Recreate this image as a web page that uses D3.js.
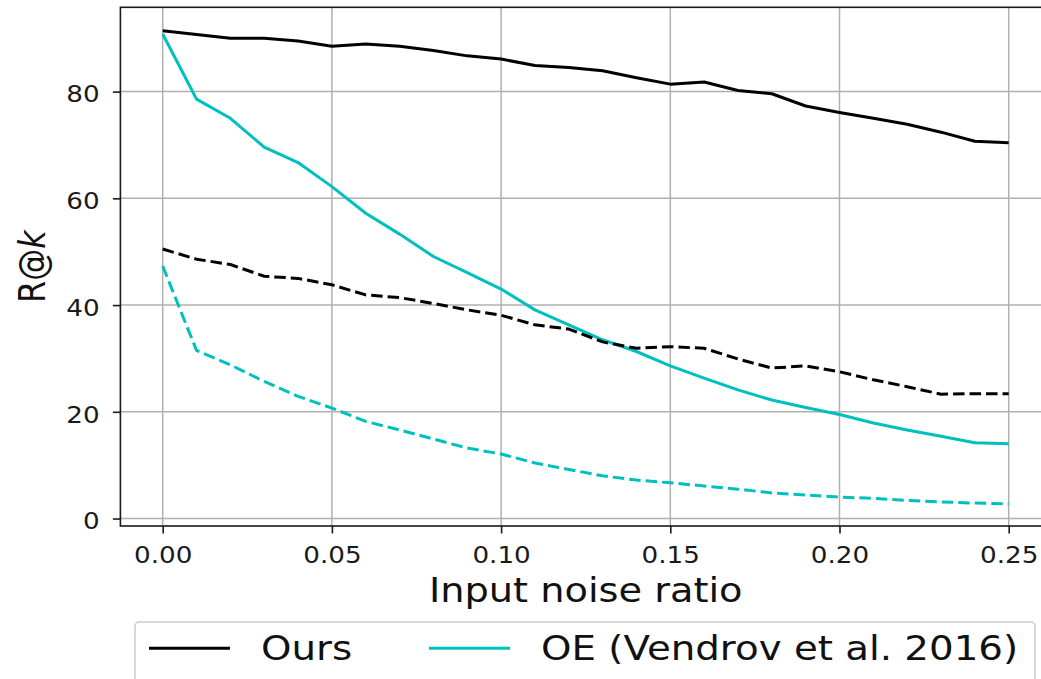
<!DOCTYPE html>
<html>
<head>
<meta charset="utf-8">
<script src="https://cdn.jsdelivr.net/npm/d3@7"></script>
<style>
    html, body { margin: 0; padding: 0; background: #fff; }
    svg { display: block; font-family: "DejaVu Sans", sans-serif; }
</style>
</head>
<body>
<div id="graph"></div>
<script>
// values
var noise = [0.00, 0.01, 0.02, 0.03, 0.04, 0.05, 0.06, 0.07, 0.08, 0.09, 0.10, 0.11, 0.12,
    0.13, 0.14, 0.15, 0.16, 0.17, 0.18, 0.19, 0.20, 0.21, 0.22, 0.23, 0.24, 0.25];
var oursSolid = [91.4, 90.7, 90.0, 90.0, 89.5, 88.5, 88.9, 88.5, 87.7, 86.7, 86.1, 84.9, 84.5,
    83.9, 82.6, 81.4, 81.8, 80.2, 79.6, 77.3, 76.1, 75.0, 73.9, 72.4, 70.7, 70.4];
var oursDashed = [50.5, 48.6, 47.6, 45.4, 45.0, 43.8, 41.9, 41.4, 40.3, 39.1, 38.1, 36.3, 35.5,
    33.1, 31.9, 32.2, 31.9, 29.9, 28.2, 28.6, 27.5, 26.0, 24.7, 23.3, 23.4, 23.4];
var oeSolid = [90.8, 78.6, 75.0, 69.6, 66.7, 62.2, 57.2, 53.3, 49.1, 46.1, 43.0, 39.1, 36.3,
    33.5, 31.3, 28.6, 26.3, 24.1, 22.2, 20.8, 19.5, 17.9, 16.6, 15.4, 14.2, 14.0];
var oeDashed = [47.3, 31.5, 28.8, 25.7, 22.9, 20.7, 18.2, 16.6, 14.9, 13.2, 12.1, 10.4, 9.2,
    8.0, 7.2, 6.7, 6.1, 5.5, 4.8, 4.4, 4.0, 3.8, 3.4, 3.1, 2.9, 2.75];
var xTicks = [0.00, 0.05, 0.10, 0.15, 0.20, 0.25];
var yTicks = [0, 20, 40, 60, 80];
var legendNames = ["Ours", "OE (Vendrov et al. 2016)"];

var width = 1041, height = 679;
var black = "#000000", cyan = "#00bfbf";
var stretch = 1.14;   // the reference is a bit wider than tall
var dash = "11.5,5";

var svg = d3.select("#graph")
    .append("svg")
    .attr("width", width)
    .attr("height", height);

var xScale = d3.scaleLinear().domain([-0.0125, 0.2625]).range([120.4, 1051]);
var yScale = d3.scaleLinear().domain([-1.4, 95.8]).range([526, 7.3]);

// grid
svg.append("g")
    .selectAll("line")
    .data(xTicks)
    .enter().append("line")
    .attr("x1", function(d) { return xScale(d); })
    .attr("x2", function(d) { return xScale(d); })
    .attr("y1", yScale.range()[0])
    .attr("y2", yScale.range()[1])
    .attr("stroke", "#b0b0b0")
    .attr("stroke-width", 1.5);

svg.append("g")
    .selectAll("line")
    .data(yTicks)
    .enter().append("line")
    .attr("x1", xScale.range()[0])
    .attr("x2", xScale.range()[1])
    .attr("y1", function(d) { return yScale(d); })
    .attr("y2", function(d) { return yScale(d); })
    .attr("stroke", "#b0b0b0")
    .attr("stroke-width", 1.5);

// series
var series = [
    {values: oursSolid, color: black, dashed: false},
    {values: oeSolid, color: cyan, dashed: false},
    {values: oursDashed, color: black, dashed: true},
    {values: oeDashed, color: cyan, dashed: true}
];

var line = d3.line()
    .x(function(d, i) { return xScale(noise[i]); })
    .y(function(d) { return yScale(d); });

svg.append("g")
    .selectAll("path")
    .data(series)
    .enter().append("path")
    .attr("d", function(s) { return line(s.values); })
    .attr("fill", "none")
    .attr("stroke", function(s) { return s.color; })
    .attr("stroke-width", 3)
    .attr("stroke-linejoin", "round")
    .attr("stroke-dasharray", function(s) { return s.dashed ? dash : null; });

// axes
var xAxis = d3.axisBottom(xScale)
    .tickValues(xTicks)
    .tickFormat(d3.format(".2f"))
    .tickSizeInner(7.5)
    .tickSizeOuter(0)
    .tickPadding(13.5);

var yAxis = d3.axisLeft(yScale)
    .tickValues(yTicks)
    .tickFormat(d3.format("d"))
    .tickSizeInner(7.5)
    .tickSizeOuter(0)
    .tickPadding(10.7);

var gx = svg.append("g")
    .attr("transform", "translate(0," + yScale.range()[0] + ")")
    .call(xAxis);

var gy = svg.append("g")
    .attr("transform", "translate(" + xScale.range()[0] + ",0)")
    .call(yAxis);

[gx, gy].forEach(function(g) {
    g.select(".domain").remove();
    g.selectAll(".tick line").attr("stroke", "#1a1a1a").attr("stroke-width", 1.6);
    g.selectAll(".tick text")
        .attr("fill", "#1a1a1a")
        .style("font-size", "23px")
        .style("font-family", "DejaVu Sans")
        .attr("transform", "scale(" + stretch + ",1)");
});
gy.selectAll(".tick text").attr("dy", "0.45em");

// spines
svg.append("rect")
    .attr("x", xScale.range()[0])
    .attr("y", yScale.range()[1])
    .attr("width", xScale.range()[1] - xScale.range()[0])
    .attr("height", yScale.range()[0] - yScale.range()[1])
    .attr("fill", "none")
    .attr("stroke", "#1a1a1a")
    .attr("stroke-width", 1.6);

// axis labels
svg.append("text")
    .attr("transform", "translate(" + (xScale.range()[0] + xScale.range()[1]) / 2 + ",602) scale(" + stretch + ",1)")
    .attr("text-anchor", "middle")
    .attr("fill", "#111")
    .style("font-size", "33.6px")
    .text("Input noise ratio");

var ylab = svg.append("text")
    .attr("transform", "translate(45," + (yScale.range()[0] + yScale.range()[1]) / 2 + ") scale(" + stretch + ",1) rotate(-90)")
    .attr("text-anchor", "middle")
    .attr("fill", "#111")
    .style("font-size", "32px");
ylab.append("tspan").text("R@");
ylab.append("tspan").style("font-style", "italic").text("k");

// legend
var legend = svg.append("g");
legend.append("rect")
    .attr("x", 135)
    .attr("y", 622)
    .attr("width", 900)
    .attr("height", 80)
    .attr("rx", 4)
    .attr("fill", "#fff")
    .attr("stroke", "#cccccc")
    .attr("stroke-width", 1.5);

var legendX = [149, 429];
var items = legend.selectAll(".item")
    .data(legendNames)
    .enter().append("g")
    .attr("class", "item")
    .attr("transform", function(d, i) { return "translate(" + legendX[i] + ",648.3)"; });

items.append("line")
    .attr("x1", 0)
    .attr("x2", 81)
    .attr("stroke", function(d, i) { return i === 0 ? black : cyan; })
    .attr("stroke-width", 3);

items.append("text")
    .attr("transform", "translate(112,12) scale(" + stretch + ",1)")
    .attr("fill", "#111")
    .style("font-size", "34px")
    .text(function(d) { return d; });
</script>
</body>
</html>
